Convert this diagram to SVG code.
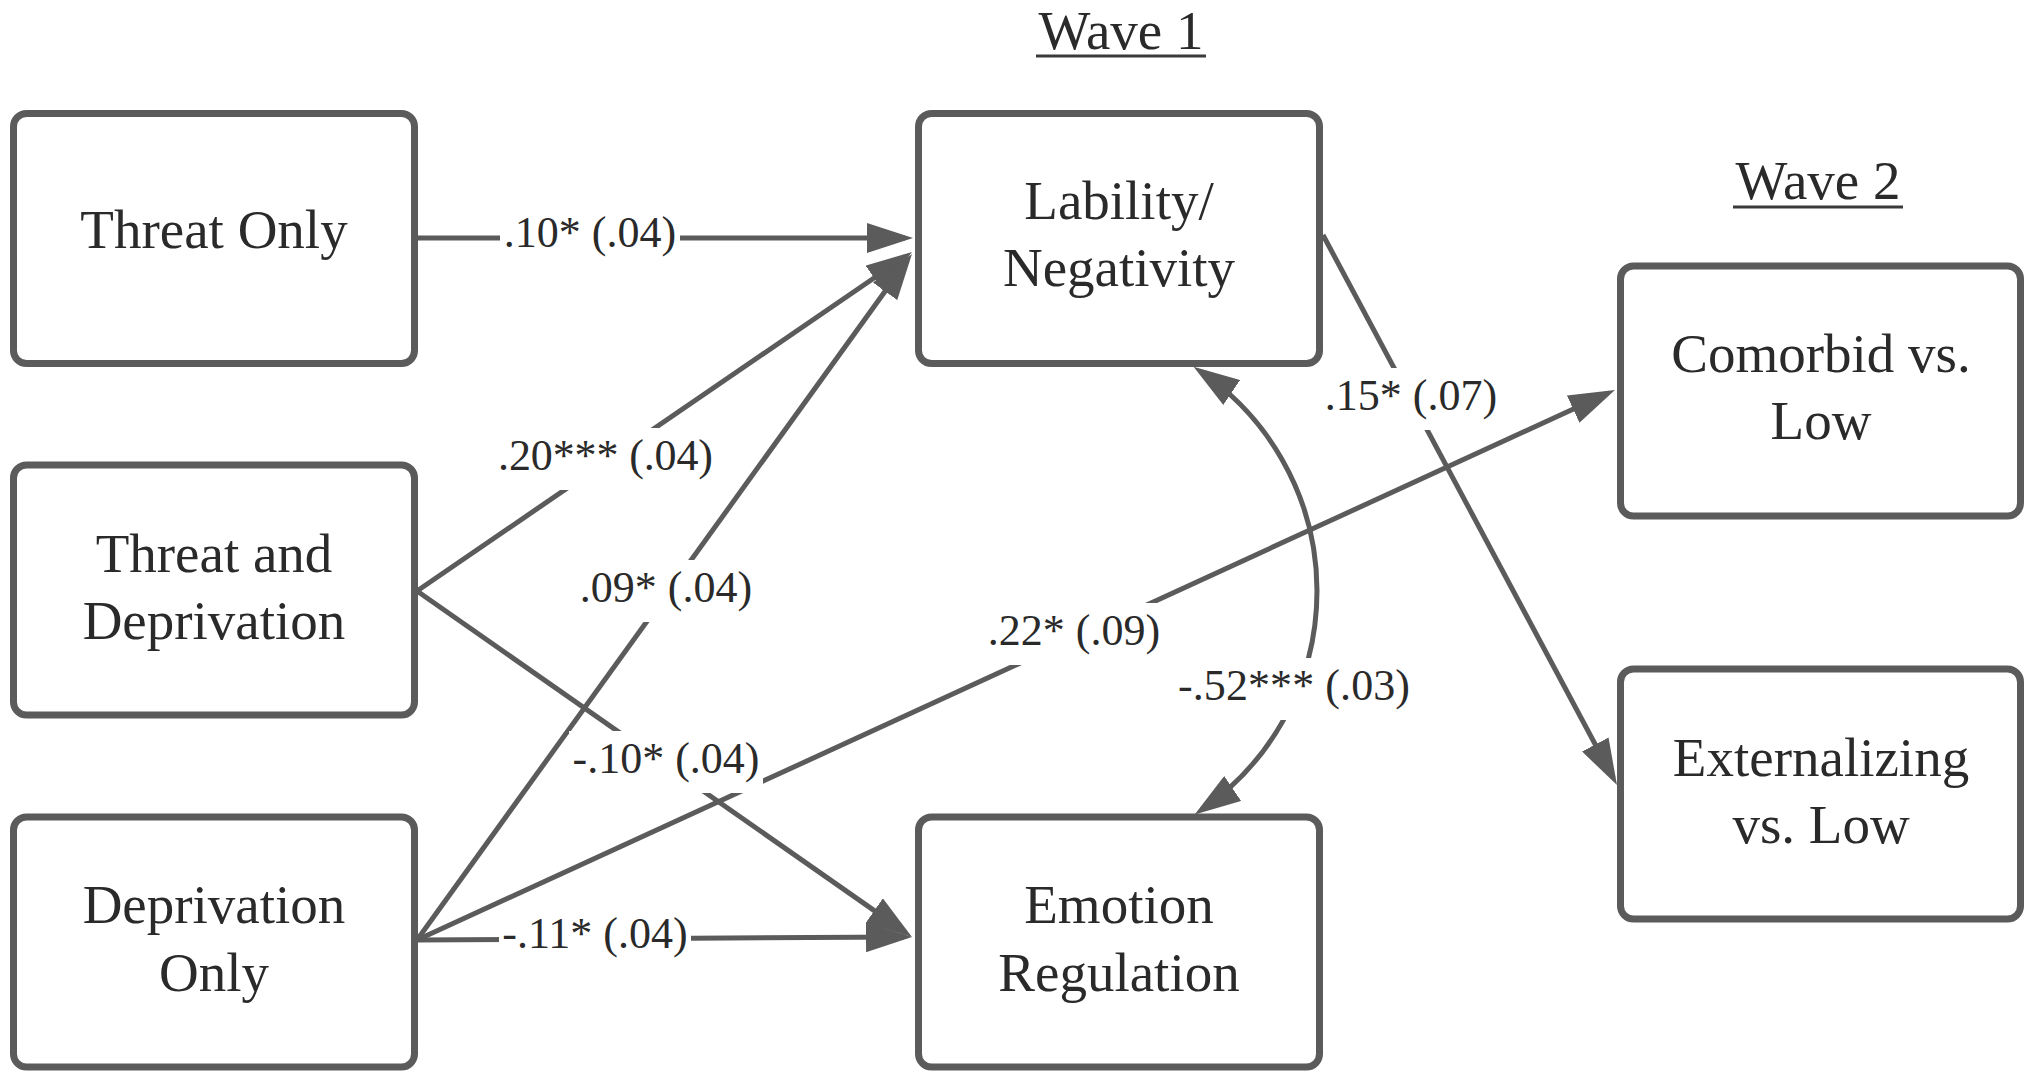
<svg xmlns="http://www.w3.org/2000/svg" width="2040" height="1086" viewBox="0 0 2040 1086">
<style>
.box{fill:#fff;stroke:#5b5b5b;stroke-width:7}
.t{font-family:"Liberation Serif","Times New Roman",serif;font-size:55px;fill:#2a2a2a;text-anchor:middle}
.lbl{font-family:"Liberation Serif","Times New Roman",serif;font-size:44px;fill:#2a2a2a;text-anchor:middle}
.edge{stroke:#5b5b5b;stroke-width:5;fill:none;marker-end:url(#ah)}
.bg{fill:#fff}
.ul{stroke:#3a3a3a;stroke-width:3}
</style>
<defs>
<marker id="ah" markerUnits="userSpaceOnUse" markerWidth="46" markerHeight="30" refX="38" refY="15" orient="auto-start-reverse">
<path d="M0,0 L46,15 L0,30 z" fill="#5b5b5b"/>
</marker>
</defs>
<rect width="2040" height="1086" fill="#fff"/>

<g id="titles">
<text class="t" x="1121" y="49">Wave 1</text>
<line class="ul" x1="1036" y1="56" x2="1206" y2="56"/>
<text class="t" x="1818" y="199">Wave 2</text>
<line class="ul" x1="1733" y1="207" x2="1903" y2="207"/>
</g>

<g id="threat-only"><rect class="box" x="13.5" y="113.5" width="401" height="250" rx="13"/><text class="t" x="214" y="248">Threat Only</text></g>
<g id="threat-and-deprivation"><rect class="box" x="13.5" y="465" width="401" height="250" rx="13"/><text class="t" x="214" y="572">Threat and</text><text class="t" x="214" y="639">Deprivation</text></g>
<g id="deprivation-only"><rect class="box" x="13.5" y="817" width="401" height="250" rx="13"/><text class="t" x="214" y="923">Deprivation</text><text class="t" x="214" y="991">Only</text></g>
<g id="lability-negativity"><rect class="box" x="918.5" y="113.5" width="401" height="250" rx="13"/><text class="t" x="1119" y="219">Lability/</text><text class="t" x="1119" y="286">Negativity</text></g>
<g id="emotion-regulation"><rect class="box" x="918.5" y="817" width="401" height="250" rx="13"/><text class="t" x="1119" y="923">Emotion</text><text class="t" x="1119" y="991">Regulation</text></g>
<g id="comorbid-vs-low"><rect class="box" x="1620.5" y="266" width="400" height="250" rx="13"/><text class="t" x="1821" y="372">Comorbid vs.</text><text class="t" x="1821" y="439">Low</text></g>
<g id="externalizing-vs-low"><rect class="box" x="1620.5" y="669" width="400" height="250" rx="13"/><text class="t" x="1821" y="776">Externalizing</text><text class="t" x="1821" y="843">vs. Low</text></g>

<g id="connectors">
<path class="edge" d="M417,238 L905,238"/>
<path class="edge" d="M417,591 L905.4,256.5"/>
<path class="edge" d="M417,940 L907.3,260.5"/>
<path class="edge" d="M417,591 L905.4,932.4"/>
<path class="edge" d="M417,940 L904,937"/>
<path class="edge" d="M417,940 L1607.7,393.3"/>
<path class="edge" d="M1323,235 L1613.2,778"/>
<path class="edge" style="marker-start:url(#ah)" d="M1200.2,371.3 A265,265 0 0 1 1201.3,809.9"/>
</g>

<g id="labels">
<rect class="bg" x="500" y="205" width="180" height="62"/>
<text class="lbl" x="590" y="247">.10* (.04)</text>
<rect class="bg" x="495" y="428" width="221" height="62"/>
<text class="lbl" x="605.5" y="470" textLength="215" lengthAdjust="spacing">.20*** (.04)</text>
<rect class="bg" x="577" y="560" width="178" height="62"/>
<text class="lbl" x="666" y="602">.09* (.04)</text>
<rect class="bg" x="569" y="731" width="194" height="62"/>
<text class="lbl" x="666" y="773">-.10* (.04)</text>
<rect class="bg" x="499" y="906" width="192" height="62"/>
<text class="lbl" x="595" y="948">-.11* (.04)</text>
<rect class="bg" x="983" y="603" width="182" height="62"/>
<text class="lbl" x="1074" y="645">.22* (.09)</text>
<rect class="bg" x="1322" y="368" width="178" height="62"/>
<text class="lbl" x="1411" y="410">.15* (.07)</text>
<rect class="bg" x="1175" y="658" width="238" height="62"/>
<text class="lbl" x="1294" y="700" textLength="232" lengthAdjust="spacing">-.52*** (.03)</text>
</g>
</svg>
